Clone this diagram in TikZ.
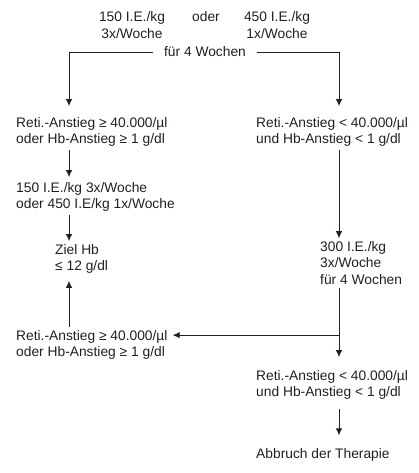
\documentclass[tikz,border=0pt]{standalone}
\usepackage{fontspec}
\setmainfont{Liberation Sans}
\usepackage{tikz}
\usetikzlibrary{arrows.meta,calc}
\definecolor{inkgray}{RGB}{35,31,32}

\begin{document}
\begin{tikzpicture}[x=1pt,y=-1pt,
    txt/.style={inner sep=3pt,align=left,anchor=west,text=inkgray,
                font=\fontsize{13.8}{16.5}\selectfont},
    arr/.style={draw=inkgray,line width=0.9pt,-{Latex[length=7pt,width=6.5pt]}}]
  \useasboundingbox (0,0) rectangle (418,473);
  % columns of the arrows
  \coordinate (colL) at (69,0);
  \coordinate (colR) at (339,0);

  % start dose
  \node[txt,anchor=center,align=center] (doseA) at (132,25) {150 I.E./kg\\3x/Woche};
  \node[txt,anchor=center] (oder) at (206,17) {oder};
  \node[txt,anchor=center,inner xsep=11pt] (wochen) at (205,52) {für 4 Wochen};
  \node[txt,anchor=center,align=center] (doseB) at (277,25) {450 I.E./kg\\1x/Woche};

  % left branch
  \node[txt] (retiHi) at (13,132) {Reti.-Anstieg ≥ 40.000/µl\\oder Hb-Anstieg ≥ 1 g/dl};
  \node[txt] (doseC) at (13,197) {150 I.E./kg 3x/Woche\\oder 450 I.E/kg 1x/Woche};
  \node[txt] (ziel) at (52,259) {Ziel Hb\\≤ 12 g/dl};
  \node[txt] (retiHiB) at (13,345) {Reti.-Anstieg ≥ 40.000/µl\\oder Hb-Anstieg ≥ 1 g/dl};

  % right branch
  \node[txt] (retiLo) at (253,132) {Reti.-Anstieg < 40.000/µl\\und Hb-Anstieg < 1 g/dl};
  \node[txt] (doseD) at (317,263) {300 I.E./kg\\3x/Woche\\für 4 Wochen};
  \node[txt] (retiLoB) at (253,385) {Reti.-Anstieg < 40.000/µl\\und Hb-Anstieg < 1 g/dl};
  \node[txt] (stop) at (253,455) {Abbruch der Therapie};

  \draw[arr,shorten >=8pt] (wochen.west) -| (colL |- retiHi.north);
  \draw[arr,shorten >=8pt] (wochen.east) -| (colR |- retiLo.north);
  \draw[arr,shorten >=2pt] (colL |- retiHi.south) -- (colL |- doseC.north);
  \draw[arr] (colL |- doseC.south) -- (colL |- ziel.north);
  \draw[arr,shorten >=4pt] (colL |- retiHiB.north) -- (colL |- ziel.south);
  \draw[arr] (colR |- retiLo.south) -- (colR |- doseD.north);
  \draw[arr,shorten >=10pt] (colR |- doseD.south) -- (colR |- retiLoB.north);
  \draw[arr] ($(colR |- retiHiB.north)+(0,8)$) -- ($(retiHiB.north east)+(2,8)$);
  \draw[arr,shorten <=6pt,shorten >=10pt] (colR |- retiLoB.south) -- (colR |- stop.north);
\end{tikzpicture}
\end{document}
